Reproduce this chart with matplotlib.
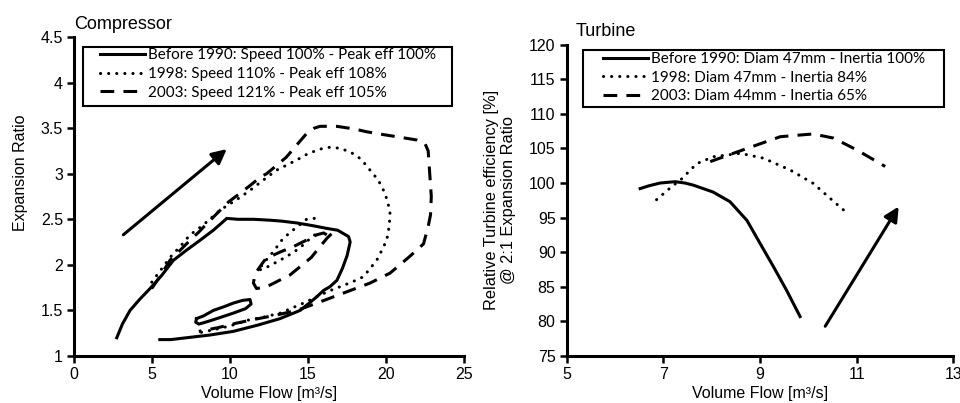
import numpy as np
import matplotlib
matplotlib.use("Agg")
import matplotlib.pyplot as plt
from matplotlib.patches import Rectangle
from matplotlib.ticker import FormatStrFormatter

plt.rcParams['font.family'] = ['Liberation Sans', 'DejaVu Sans']

nan = np.nan

# ---- compressor map data (volume flow, expansion ratio) ----
comp_1990_x = [2.74, 3.1, 3.59, 4.2, 4.87, 5.6, 6.37, 7.2, 8.0, 8.93, 9.4, 9.79, 10.5, 11.5, 12.56,
               13.3, 14.27, 15.3, 16.2, 16.9, 17.6, 17.7, 17.5, 17.2, 16.85, 16.4, 16.0, 15.56, 15.0,
               14.49, 13.2, 11.8, 10.2, 8.7, 7.2, 6.2, 5.5,
               nan,
               7.85, 8.3, 8.93, 9.6, 10.2, 10.8, 11.28, 11.35, 11.0, 10.2, 9.5, 8.6, 8.0, 7.8, 7.85]
comp_1990_y = [1.20, 1.35, 1.50, 1.62, 1.74, 1.88, 2.05, 2.16, 2.26, 2.38, 2.45, 2.51, 2.50, 2.50, 2.49,
               2.48, 2.46, 2.43, 2.40, 2.38, 2.31, 2.25, 2.10, 1.96, 1.83, 1.76, 1.72, 1.65, 1.57,
               1.50, 1.41, 1.34, 1.27, 1.23, 1.20, 1.18, 1.18,
               nan,
               1.41, 1.44, 1.50, 1.54, 1.58, 1.61, 1.62, 1.57, 1.52, 1.47, 1.43, 1.38, 1.35, 1.37, 1.41]

comp_1998_x = [4.98, 5.5, 6.2, 6.9, 7.44, 8.0, 8.5, 9.36, 10.0, 10.64, 11.3, 12.13, 13.0, 14.27, 15.0,
               15.77, 16.4, 17.0, 17.7, 18.4, 18.97, 19.5, 19.83, 20.1, 20.26, 20.2, 20.04, 19.7, 19.4,
               18.55, 17.8, 17.05, 16.3, 15.56, 14.7, 13.2, 12.0, 11.28, 10.0, 9.0, 7.86,
               nan,
               15.4, 14.9, 14.1, 13.4, 12.8, 12.2, 11.8, 12.2, 13.2, 14.1, 14.7, 15.2, 15.6]
comp_1998_y = [1.81, 1.93, 2.09, 2.22, 2.33, 2.40, 2.47, 2.60, 2.67, 2.74, 2.82, 2.93, 3.04, 3.15, 3.22,
               3.27, 3.29, 3.28, 3.24, 3.16, 3.04, 2.93, 2.82, 2.70, 2.56, 2.42, 2.27, 2.15, 2.05,
               1.87, 1.81, 1.76, 1.71, 1.65, 1.58, 1.47, 1.42, 1.40, 1.33, 1.29, 1.25,
               nan,
               2.51, 2.50, 2.39, 2.29, 2.15, 2.03, 1.94, 1.96, 2.05, 2.14, 2.22, 2.30, 2.35]

comp_2003_x = [4.98, 5.5, 6.15, 6.8, 7.44, 8.0, 8.5, 9.2, 9.9, 10.6, 11.28, 12.0, 12.35, 13.6, 14.4,
               14.9, 15.4, 15.77, 16.84, 18.0, 18.76, 19.8, 20.9, 21.97, 22.5, 22.7, 22.8, 22.9, 22.85,
               22.7, 22.4, 21.5, 20.26, 18.97, 17.26, 15.56, 14.27, 13.0, 11.5, 10.4, 9.2, 8.0,
               nan,
               16.5, 16.2, 15.2, 13.85, 12.35, 11.7, 11.5, 11.6, 12.0, 12.3, 13.2, 14.06, 15.0, 15.56, 16.0, 16.2]
comp_2003_y = [1.74, 1.87, 2.05, 2.16, 2.27, 2.36, 2.45, 2.57, 2.69, 2.78, 2.87, 2.97, 3.00, 3.18, 3.34,
               3.44, 3.50, 3.52, 3.52, 3.49, 3.46, 3.43, 3.40, 3.37, 3.33, 3.25, 3.00, 2.75, 2.55,
               2.42, 2.23, 2.09, 1.91, 1.80, 1.69, 1.58, 1.50, 1.45, 1.40, 1.36, 1.31, 1.27,
               nan,
               2.34, 2.29, 2.08, 1.89, 1.76, 1.74, 1.80, 1.90, 2.00, 2.07, 2.14, 2.20, 2.28, 2.33, 2.35, 2.33]

comp_labels = ["Before 1990: Speed 100% - Peak eff 100%",
               "1998: Speed 110% - Peak eff 108%",
               "2003: Speed 121% - Peak eff 105%"]
comp_arrow = [(3.16, 2.33), (9.79, 3.27)]

# ---- turbine efficiency data ----
turb_1990_x = [6.52, 6.7, 6.93, 7.24, 7.45, 7.62, 8.03, 8.38, 8.73, 9.0, 9.28, 9.55, 9.83]
turb_1990_y = [99.2, 99.6, 100.0, 100.2, 100.0, 99.7, 98.7, 97.3, 94.6, 91.3, 87.9, 84.5, 80.7]
turb_1998_x = [6.86, 7.21, 7.35, 7.69, 8.03, 8.59, 9.07, 9.62, 10.1, 10.45, 10.73]
turb_1998_y = [97.6, 99.7, 100.4, 102.8, 103.8, 104.3, 103.6, 101.9, 99.96, 97.8, 96.1]
turb_2003_x = [7.97, 8.73, 9.42, 10.1, 10.52, 11.0, 11.59]
turb_2003_y = [103.1, 105.0, 106.7, 107.1, 106.5, 104.8, 102.4]
turb_labels = ["Before 1990: Diam 47mm - Inertia 100%",
               "1998: Diam 47mm - Inertia 84%",
               "2003: Diam 44mm - Inertia 65%"]
turb_arrow = [(10.35, 79.3), (11.87, 96.6)]

W, H = 960, 403
lw = 2.2
dot = dict(linestyle=(0, (0.05, 2.6)), dash_capstyle='round')
dash = dict(linestyle=(0, (4.5, 3.0)))
leg_font = dict(family='Lato', size=11)


def style_axes(ax):
    for s in ['top', 'right']:
        ax.spines[s].set_visible(False)
    for s in ['left', 'bottom']:
        ax.spines[s].set_linewidth(2.2)
    ax.tick_params(direction='out', length=5, width=1.8, labelsize=11.5, pad=3)


def boxed_legend(ax, x0, y0, x1, y1, hx, ty):
    # legend without frame, box drawn as a plain rectangle (pixel coords from top-left)
    leg = ax.legend(loc='upper left', bbox_to_anchor=(hx / W, 1 - ty / H),
                    bbox_transform=fig.transFigure, borderaxespad=0, borderpad=0,
                    prop=leg_font, handlelength=2.95, handletextpad=0.2,
                    labelspacing=0.3, frameon=False)
    ax.add_patch(Rectangle((x0 / W, 1 - y1 / H), (x1 - x0) / W, (y1 - y0) / H,
                           transform=fig.transFigure, facecolor='white', clip_on=False,
                           edgecolor='black', lw=1.5, zorder=4))
    leg.set_zorder(5)
    return leg


fig = plt.figure(figsize=(9.6, 4.03), dpi=100)

# Compressor
ax1 = fig.add_axes([0.0771, 0.1166, 0.4063, 0.7916])
ax1.plot(comp_1990_x, comp_1990_y, color='black', lw=lw, label=comp_labels[0])
ax1.plot(comp_1998_x, comp_1998_y, color='black', lw=lw, label=comp_labels[1], **dot)
ax1.plot(comp_2003_x, comp_2003_y, color='black', lw=lw, label=comp_labels[2], **dash)
ax1.annotate('', xy=comp_arrow[1], xytext=comp_arrow[0],
             arrowprops=dict(arrowstyle='-|>', color='black', lw=2.2, mutation_scale=22, shrinkA=0, shrinkB=0))
ax1.set_xlim(0, 25)
ax1.set_ylim(1, 4.5)
ax1.set_xticks([0, 5, 10, 15, 20, 25])
ax1.set_yticks([1, 1.5, 2, 2.5, 3, 3.5, 4, 4.5])
ax1.yaxis.set_major_formatter(FormatStrFormatter('%g'))
style_axes(ax1)
ax1.set_xlabel("Volume Flow [m³/s]", fontsize=11.5, labelpad=3)
ax1.set_ylabel("Expansion Ratio", fontsize=11.5)
ax1.yaxis.set_label_coords(-0.118, 0.576)
ax1.set_title("Compressor", loc='left', fontsize=13, pad=6)
boxed_legend(ax1, 82.7, 46.7, 451.7, 106, 100, 48.5)

# Turbine
ax2 = fig.add_axes([0.5903, 0.1166, 0.4027, 0.7725])
ax2.plot(turb_1990_x, turb_1990_y, color='black', lw=lw, label=turb_labels[0])
ax2.plot(turb_1998_x, turb_1998_y, color='black', lw=lw, label=turb_labels[1], **dot)
ax2.plot(turb_2003_x, turb_2003_y, color='black', lw=lw, label=turb_labels[2], **dash)
ax2.annotate('', xy=turb_arrow[1], xytext=turb_arrow[0],
             arrowprops=dict(arrowstyle='-|>', color='black', lw=2.2, mutation_scale=22, shrinkA=0, shrinkB=0))
ax2.set_xlim(5, 13)
ax2.set_ylim(75, 120)
ax2.set_xticks([5, 7, 9, 11, 13])
ax2.set_yticks(range(75, 121, 5))
style_axes(ax2)
ax2.set_xlabel("Volume Flow [m³/s]", fontsize=11.5, labelpad=3)
ax2.set_ylabel("Relative Turbine efficiency [%]\n@ 2:1 Expansion Ratio", fontsize=11.8,
               linespacing=1.15)
ax2.yaxis.set_label_coords(-0.131, 0.5)
ax2.set_title("Turbine", loc='left', fontsize=13, pad=6, x=0.024)
boxed_legend(ax2, 583.3, 50, 944.3, 107.3, 603.3, 52)

fig.savefig("out.png", dpi=100)
